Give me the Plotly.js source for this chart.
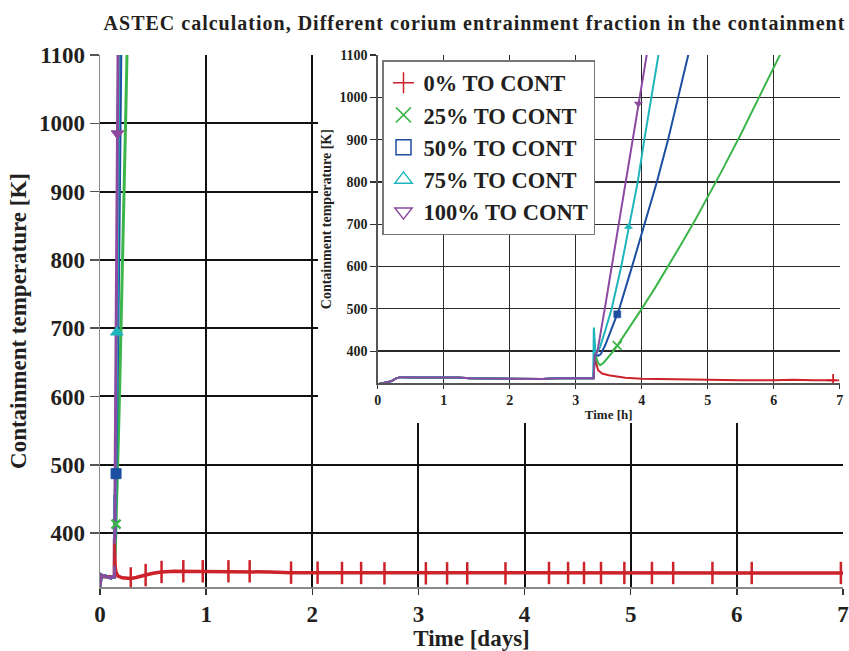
<!DOCTYPE html>
<html>
<head>
<meta charset="utf-8">
<script src="https://cdn.plot.ly/plotly-3.0.1.min.js"></script>
<style>
  html, body { margin: 0; padding: 0; background: #fff; }
  #chart { width: 849px; height: 651px; }
  .gtitle { letter-spacing: 1px; }
</style>
</head>
<body>
<div id="chart"></div>
<script>
// ---------- data ----------
const seriesNames = ['0% TO CONT', '25% TO CONT', '50% TO CONT', '75% TO CONT', '100% TO CONT'];
const seriesColors = ['#cc2229', '#3cb54a', '#1c4ea1', '#1fb5bd', '#8b4a9f'];

// common pre-jump plateau (hours / K)
const preHours = [0, 0.1, 0.21, 0.27, 0.34, 0.6, 1.0, 1.2, 1.4, 1.7, 2.0, 2.3, 2.5, 2.7, 3.0, 3.26];
const preTemp  = [322, 326, 329, 335, 338.5, 337.5, 338, 337.5, 336, 335.5, 335.5, 335, 334, 336, 335.5, 335.5];

// after the jump (hours / K)
const redHours    = [3.27, 3.29, 3.31, 3.34, 3.40, 3.5, 3.75, 4.0, 4.5, 5.0, 5.5, 6.0, 6.3, 6.6, 6.95];
const redTemp     = [336, 392, 372, 355, 347, 343, 337, 335, 333.5, 332, 331.5, 331, 332.5, 331, 331];
const greenHours  = [3.27, 3.29, 3.31, 3.34, 3.37, 3.42, 3.5, 3.57, 3.63, 3.8, 4.0, 4.2, 4.4, 4.6, 4.8, 5.0, 5.2, 5.5, 5.8, 6.1, 6.3];
const greenTemp   = [336, 392, 386, 372, 367, 372, 386, 400, 413, 452, 500, 549, 600, 653, 707, 764, 822, 912, 1005, 1100, 1165];
const blueHours   = [3.27, 3.29, 3.31, 3.34, 3.38, 3.45, 3.55, 3.66, 3.85, 4.04, 4.23, 4.40, 4.56, 4.71, 4.85];
const blueTemp    = [336, 400, 392, 389, 393, 415, 455, 500, 598, 700, 800, 900, 1000, 1100, 1195];
const cyanHours   = [3.265, 3.275, 3.30, 3.33, 3.37, 3.45, 3.545, 3.69, 3.81, 3.94, 4.04, 4.14, 4.25, 4.35];
const cyanTemp    = [336, 456, 395, 398, 410, 450, 500, 600, 700, 800, 900, 1000, 1100, 1190];
const purpleHours = [3.27, 3.29, 3.33, 3.44, 3.545, 3.65, 3.758, 3.864, 3.965, 4.076, 4.15];
const purpleTemp  = [336, 390, 400, 500, 600, 700, 800, 900, 1000, 1100, 1170];

// symbol positions on the curves (hours / K)
const markHours = [[6.9], [3.63], [3.63], [3.80], [3.95]];
const markTemp  = [[331], [413], [487], [694], [985]];

// main-plot 0% curve over the whole week (days / K)
const mainRedDays = [0, 0.004, 0.03, 0.08, 0.12, 0.136, 0.1375, 0.139, 0.142, 0.15, 0.17, 0.21, 0.25, 0.29, 0.34, 0.38, 0.43, 0.5, 0.58, 0.7, 0.8, 1.0, 1.2, 1.4, 1.6, 1.8, 2.0, 2.3, 2.6, 3.0, 3.5, 4.0, 4.5, 5.0, 5.5, 6.0, 6.5, 7.0];
const mainRedTemp = [321, 337, 336, 335.5, 335.5, 336, 392, 370, 352, 343, 337, 334.5, 333.5, 333.5, 335, 336, 338.5, 341, 343, 344, 344, 344, 344, 344, 343, 342, 342, 341.5, 341, 341, 341, 341.5, 341.5, 341.5, 341.5, 341.5, 341.5, 341.5];
const mainRedMarkDays = [0.137, 0.29, 0.43, 0.58, 0.785, 0.968, 1.21, 1.41, 1.80, 2.05, 2.28, 2.46, 2.68, 3.07, 3.27, 3.46, 3.82, 4.23, 4.41, 4.56, 4.72, 4.94, 5.20, 5.40, 5.77, 6.14, 6.98];
const mainRedMarkTemp = [368, 333.5, 338.5, 343, 344, 344, 344, 344, 342, 342, 341.5, 341.5, 341, 341, 341, 341, 341, 341.5, 341.5, 341.5, 341.5, 341.5, 341.5, 341.5, 341.5, 341.5, 341.5];

// ticks
const mainXTicks = [0, 1, 2, 3, 4, 5, 6, 7];
const mainYTicks = [400, 500, 600, 700, 800, 900, 1000, 1100];
const insetXTicks = [0, 1, 2, 3, 4, 5, 6, 7];
const insetYTicks = [400, 500, 600, 700, 800, 900, 1000, 1100];

// ---------- build ----------
const FONT = 'Liberation Serif, Times New Roman, serif';
const TXT = '#231f20';
const toDays = a => a.map(h => h / 24);

const insetHours = [
  preHours.concat(redHours), preHours.concat(greenHours), preHours.concat(blueHours),
  preHours.concat(cyanHours), preHours.concat(purpleHours)
];
const insetTemp = [
  preTemp.concat(redTemp), preTemp.concat(greenTemp), preTemp.concat(blueTemp),
  preTemp.concat(cyanTemp), preTemp.concat(purpleTemp)
];
const legendSymbols = ['cross-thin-open', 'x-thin-open', 'square-open', 'triangle-up-open', 'triangle-down-open'];
const mainSymbols   = ['line-ns-open', 'x-thin-open', 'square', 'triangle-up', 'triangle-down'];
const insetSymbols  = ['cross-thin-open', 'x-thin-open', 'square', 'triangle-up', 'triangle-down'];

const traces = [];
// main plot lines
for (let i = 0; i < 5; i++) {
  traces.push({
    x: i === 0 ? mainRedDays : toDays(insetHours[i]),
    y: i === 0 ? mainRedTemp : insetTemp[i],
    xaxis: 'x', yaxis: 'y', mode: 'lines', showlegend: false, hoverinfo: 'skip',
    line: { color: seriesColors[i], width: i === 0 ? 3.5 : 3 }
  });
}
// main plot symbols
const mainSizes = [16, 9, 10, 11, 11];
for (let i = 0; i < 5; i++) {
  traces.push({
    x: i === 0 ? mainRedMarkDays : toDays(markHours[i]),
    y: i === 0 ? mainRedMarkTemp : markTemp[i],
    xaxis: 'x', yaxis: 'y', mode: 'markers', showlegend: false, hoverinfo: 'skip',
    marker: { symbol: mainSymbols[i], size: mainSizes[i],
              color: seriesColors[i], line: { color: seriesColors[i], width: i === 0 ? 2.5 : (i === 1 ? 2.5 : 1) } }
  });
}
// white box behind the inset (empty subplot); legend entries live here, outside its range
traces.push({ x: [], y: [], xaxis: 'x2', yaxis: 'y2', mode: 'markers', showlegend: false, hoverinfo: 'skip' });
for (let i = 0; i < 5; i++) {
  traces.push({
    x: markHours[i], y: markTemp[i], xaxis: 'x2', yaxis: 'y2', mode: 'markers',
    name: seriesNames[i], showlegend: true, hoverinfo: 'skip',
    marker: { symbol: legendSymbols[i], size: 15, color: seriesColors[i],
              line: { color: seriesColors[i], width: 1.5 } }
  });
}
// inset lines
for (let i = 0; i < 5; i++) {
  traces.push({
    x: insetHours[i], y: insetTemp[i],
    xaxis: 'x3', yaxis: 'y3', mode: 'lines', showlegend: false, hoverinfo: 'skip',
    line: { color: seriesColors[i], width: 2 }
  });
}
// inset symbols
for (let i = 0; i < 5; i++) {
  traces.push({
    x: markHours[i], y: markTemp[i],
    xaxis: 'x3', yaxis: 'y3', mode: 'markers', showlegend: false, hoverinfo: 'skip',
    marker: { symbol: insetSymbols[i], size: i < 2 ? 9 : 7, color: seriesColors[i],
              line: { color: seriesColors[i], width: i < 2 ? 1.8 : 0.5 } }
  });
}

const L = 100, R = 6, T = 55, B = 64, W = 849, H = 651;
const pw = W - L - R, ph = H - T - B;
const px = v => (v - L) / pw;
const py = v => (H - B - v) / ph;

const layout = {
  width: W, height: H,
  margin: { l: L, r: R, t: T, b: B, pad: 0 },
  paper_bgcolor: '#fff', plot_bgcolor: '#fff',
  font: { family: FONT, color: TXT, weight: 700 },
  title: {
    text: 'ASTEC calculation, Different corium entrainment fraction in the containment',
    font: { family: FONT, size: 20, color: TXT, weight: 700 },
    xref: 'paper', x: px(474.5), xanchor: 'center',
    yref: 'container', y: 1 - 23 / H, yanchor: 'middle'
  },
  xaxis: {
    domain: [0, 1], range: [0, 7], tickvals: mainXTicks, ticktext: mainXTicks.map(String),
    showgrid: true, gridcolor: '#111', gridwidth: 2, zeroline: false,
    showline: true, linecolor: '#8a8a8a', linewidth: 1.5,
    ticks: 'outside', ticklen: 6, tickwidth: 1.5, tickcolor: '#333',
    tickfont: { family: FONT, size: 23, color: TXT, weight: 700 },
    title: { text: 'Time [days]', font: { family: FONT, size: 23, color: TXT, weight: 700 }, standoff: 2 },
    anchor: 'y', fixedrange: true
  },
  yaxis: {
    domain: [0, 1], range: [321, 1100], tickvals: mainYTicks, ticktext: mainYTicks.map(String),
    showgrid: true, gridcolor: '#111', gridwidth: 2, zeroline: false,
    showline: true, linecolor: '#8a8a8a', linewidth: 1.5,
    ticks: 'outside', ticklen: 9, tickwidth: 1.5, tickcolor: '#555',
    tickfont: { family: FONT, size: 23, color: TXT, weight: 700 },
    title: { text: 'Containment temperature [K]', font: { family: FONT, size: 23, color: TXT, weight: 700 }, standoff: 6 },
    anchor: 'x', fixedrange: true
  },
  xaxis2: { domain: [px(318), 1], range: [0, 1], visible: false, anchor: 'y2', fixedrange: true },
  yaxis2: { domain: [py(423), 1], range: [0, 1], visible: false, anchor: 'x2', fixedrange: true },
  xaxis3: {
    domain: [px(377.7), px(839.7)], range: [0, 7], tickvals: insetXTicks, ticktext: insetXTicks.map(String),
    showgrid: true, gridcolor: '#2a2a2a', gridwidth: 1.3, zeroline: false,
    showline: true, linecolor: '#555', linewidth: 1.3,
    ticks: 'outside', ticklen: 4, tickwidth: 1.2, tickcolor: '#333',
    tickfont: { family: FONT, size: 14, color: TXT, weight: 700 },
    title: { text: 'Time [h]', font: { family: FONT, size: 13, color: TXT, weight: 700 }, standoff: 2 },
    anchor: 'y3', fixedrange: true
  },
  yaxis3: {
    domain: [py(383.3), 1], range: [324, 1100], tickvals: insetYTicks, ticktext: insetYTicks.map(String),
    showgrid: true, gridcolor: '#2a2a2a', gridwidth: 1.3, zeroline: false,
    showline: true, linecolor: '#555', linewidth: 1.3,
    ticks: 'outside', ticklen: 6, tickwidth: 1.2, tickcolor: '#333',
    tickfont: { family: FONT, size: 14, color: TXT, weight: 700 },
    title: { text: 'Containment temperature [K]', font: { family: FONT, size: 14, color: TXT, weight: 700 }, standoff: 4 },
    anchor: 'x3', fixedrange: true
  },
  legend: {
    x: px(382), y: py(60), xanchor: 'left', yanchor: 'top',
    bgcolor: '#fff', bordercolor: '#777', borderwidth: 1.5,
    font: { family: FONT, size: 22.5, color: TXT, weight: 700 },
    tracegroupgap: 0
  },
  showlegend: true
};

Plotly.newPlot('chart', traces, layout, { displayModeBar: false, staticPlot: true });
</script>
</body>
</html>
